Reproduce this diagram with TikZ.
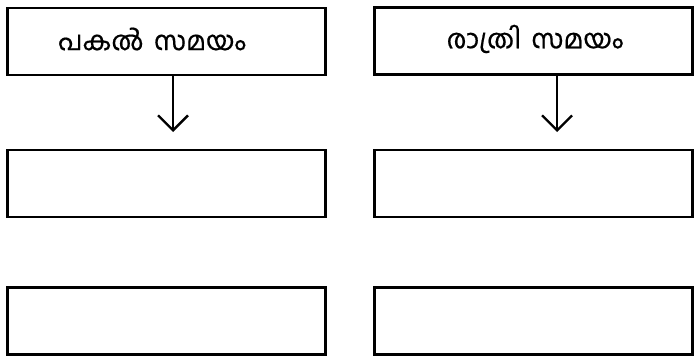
\documentclass[tikz,border=0pt]{standalone}
\usepackage{fontspec}
\newfontfamily\mlfont[Script=Malayalam,FakeBold=0.6,WordSpace=1.6]{Hind Kochi}
\usetikzlibrary{arrows.meta}
\begin{document}
\begin{tikzpicture}[x=1pt,y=-1pt,
  box/.style={draw=black,line width=2.2pt,minimum width=318pt,minimum height=67pt,inner sep=0pt},
  title/.style={font=\mlfont\fontsize{26.5}{30}\selectfont,inner sep=0pt},
  down/.style={line width=2.3pt,-{Straight Barb[length=15pt,width=30pt,line width=2.3pt]}}]
\useasboundingbox (0,0) rectangle (694,356);
% left column
\node[box] (tl) at (166.5,41.5) {};
\node[title] (tlt) at (152,39) {പകൽ സമയം};
\node[box] (ml) at (166.5,183.5) {};
\node[box] (bl) at (166.5,321) {};
% right column
\node[box] (tr) at (533.5,41) {};
\node[title] (trt) at (535,39) {രാത്രി സമയം};
\node[box] (mr) at (533.5,183.5) {};
\node[box] (br) at (533.5,321) {};
% arrows under the headings
\coordinate (al) at (173,132);
\coordinate (ar) at (557,132);
\draw[down] (tl.south -| al) -- (al);
\draw[down] (tr.south -| ar) -- (ar);
\end{tikzpicture}
\end{document}
